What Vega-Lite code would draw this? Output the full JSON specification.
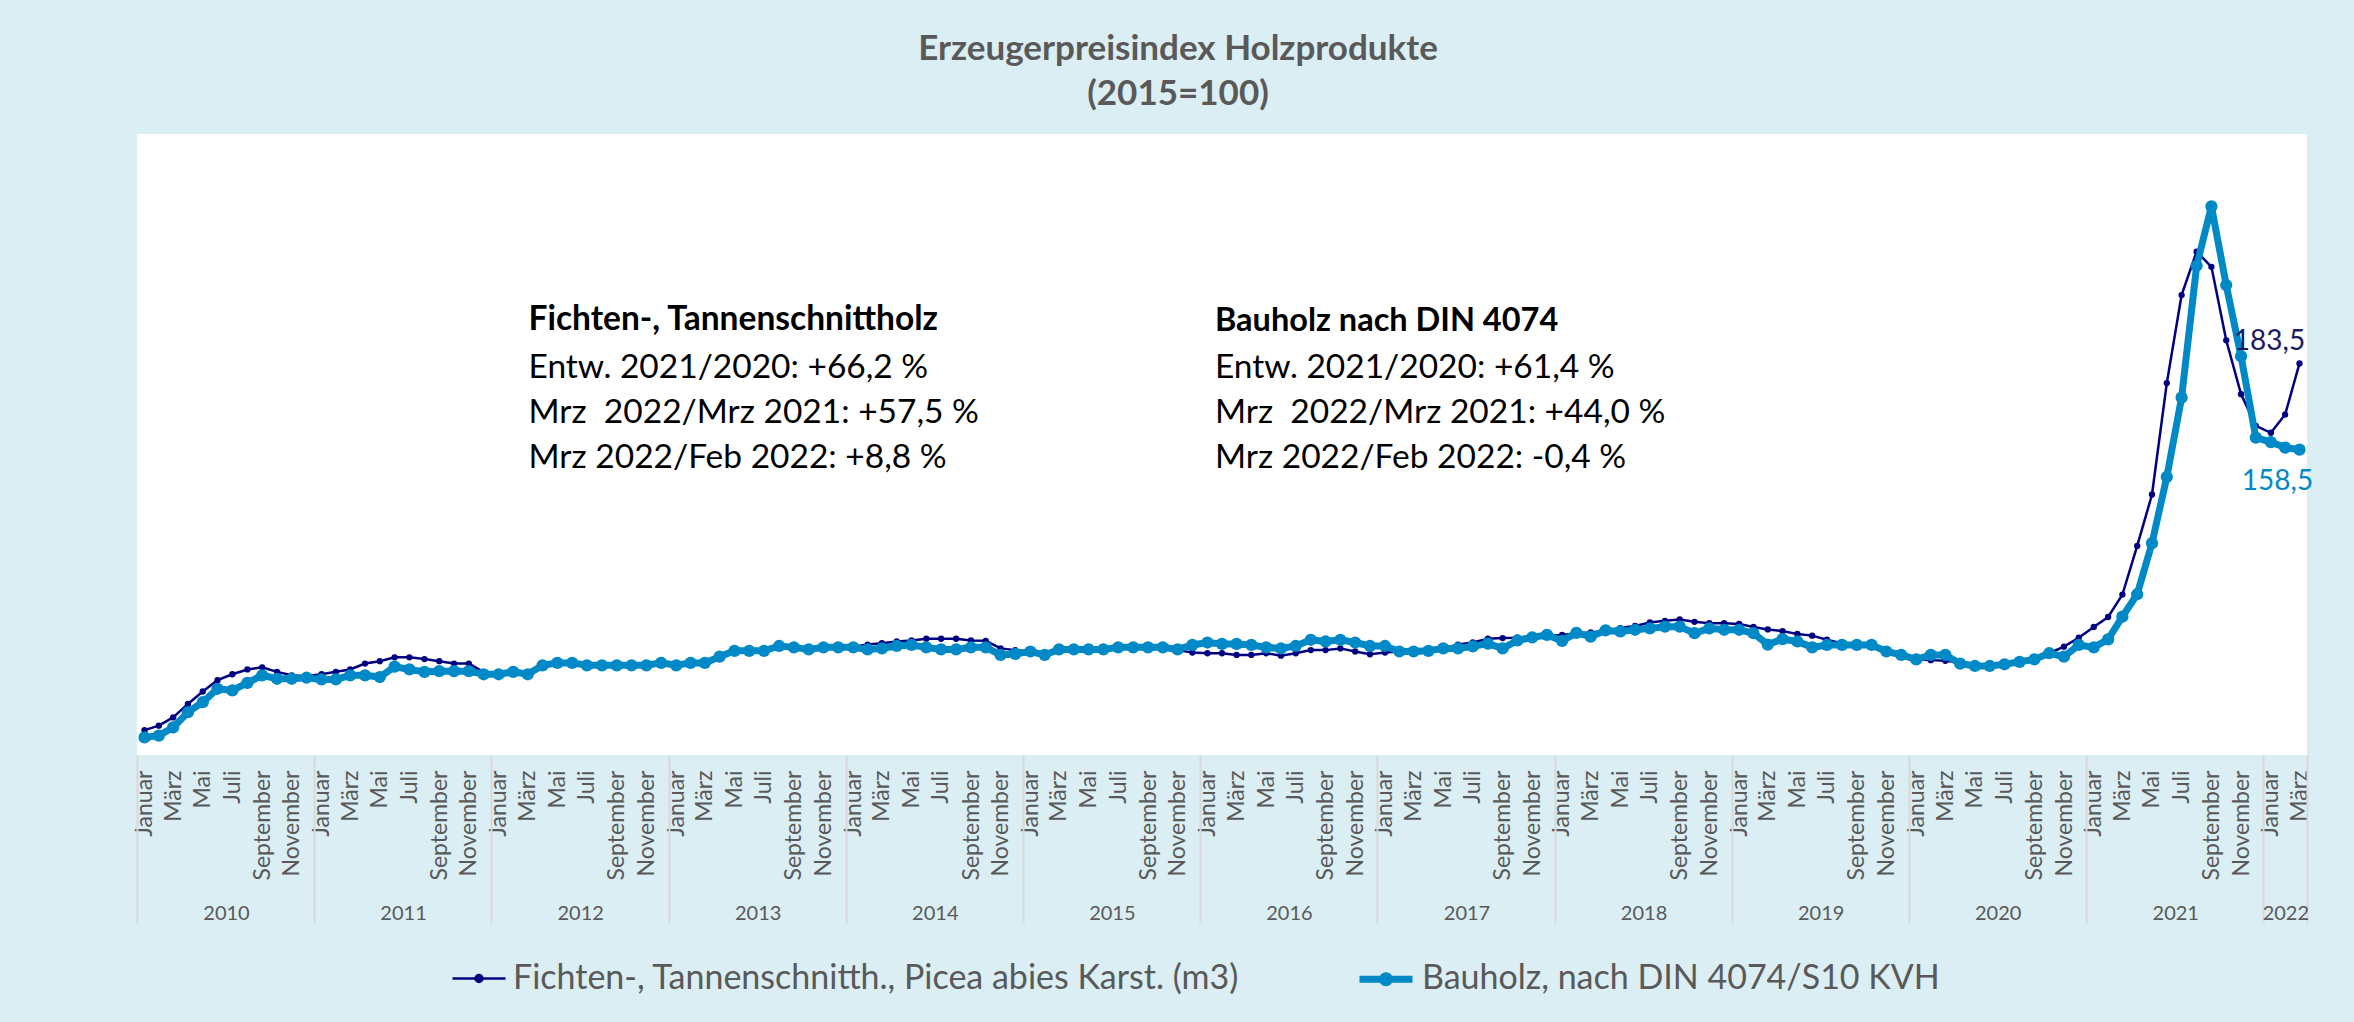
{
  "$schema": "https://vega.github.io/schema/vega-lite/v6.json",
  "autosize": {"type": "none"},
  "padding": {"left": 137, "top": 134, "right": 47, "bottom": 267},
  "width": 2170,
  "height": 621,
  "background": "#DAEEF3",
  "view": {"fill": "white", "stroke": null},
  "title": {
    "text": ["Erzeugerpreisindex Holzprodukte", "(2015=100)"],
    "fontSize": 35, "fontWeight": "bold", "color": "#595959", "font": "Lato",
    "lineHeight": 45, "anchor": "middle", "dx": -44, "offset": 22
  },
  "data": {
    "format": {"parse": {"d": "utc:'%Y-%m'"}},
    "values": [
      {"d":"2010-01","F":77.2,"B":75.1},{"d":"2010-02","F":78.5,"B":75.6},{"d":"2010-03","F":80.9,"B":78.0},{"d":"2010-04","F":84.8,"B":82.4},{"d":"2010-05","F":88.4,"B":85.3},{"d":"2010-06","F":91.7,"B":89.2},{"d":"2010-07","F":93.4,"B":88.7},{"d":"2010-08","F":94.8,"B":90.9},{"d":"2010-09","F":95.4,"B":93.1},{"d":"2010-10","F":94.1,"B":92.1},{"d":"2010-11","F":93.1,"B":92.1},{"d":"2010-12","F":92.8,"B":92.4},
      {"d":"2011-01","F":93.4,"B":91.9},{"d":"2011-02","F":94.1,"B":91.9},{"d":"2011-03","F":94.8,"B":93.1},{"d":"2011-04","F":96.5,"B":93.1},{"d":"2011-05","F":97.2,"B":92.6},{"d":"2011-06","F":98.3,"B":95.6},{"d":"2011-07","F":98.3,"B":94.8},{"d":"2011-08","F":97.8,"B":94.1},{"d":"2011-09","F":97.2,"B":94.3},{"d":"2011-10","F":96.5,"B":94.3},{"d":"2011-11","F":96.5,"B":94.3},{"d":"2011-12","F":94.0,"B":93.4},
      {"d":"2012-01","F":93.6,"B":93.4},{"d":"2012-02","F":94.1,"B":94.1},{"d":"2012-03","F":93.6,"B":93.4},{"d":"2012-04","F":96.0,"B":96.0},{"d":"2012-05","F":96.7,"B":96.7},{"d":"2012-06","F":96.7,"B":96.7},{"d":"2012-07","F":96.2,"B":96.0},{"d":"2012-08","F":96.2,"B":96.0},{"d":"2012-09","F":96.2,"B":96.0},{"d":"2012-10","F":96.2,"B":96.0},{"d":"2012-11","F":96.2,"B":96.0},{"d":"2012-12","F":96.7,"B":96.7},
      {"d":"2013-01","F":96.2,"B":96.0},{"d":"2013-02","F":96.7,"B":96.7},{"d":"2013-03","F":96.7,"B":96.7},{"d":"2013-04","F":98.5,"B":98.5},{"d":"2013-05","F":100.2,"B":100.2},{"d":"2013-06","F":100.2,"B":100.2},{"d":"2013-07","F":100.2,"B":100.2},{"d":"2013-08","F":101.4,"B":101.6},{"d":"2013-09","F":101.2,"B":101.2},{"d":"2013-10","F":100.8,"B":100.6},{"d":"2013-11","F":101.2,"B":101.2},{"d":"2013-12","F":101.2,"B":101.2},
      {"d":"2014-01","F":101.4,"B":101.2},{"d":"2014-02","F":102.0,"B":100.6},{"d":"2014-03","F":102.4,"B":100.9},{"d":"2014-04","F":102.9,"B":101.6},{"d":"2014-05","F":103.2,"B":101.9},{"d":"2014-06","F":103.7,"B":101.2},{"d":"2014-07","F":103.7,"B":100.6},{"d":"2014-08","F":103.7,"B":100.6},{"d":"2014-09","F":103.2,"B":101.2},{"d":"2014-10","F":103.1,"B":101.2},{"d":"2014-11","F":100.9,"B":99.0},{"d":"2014-12","F":100.4,"B":99.3},
      {"d":"2015-01","F":100.0,"B":100.0},{"d":"2015-02","F":99.5,"B":99.0},{"d":"2015-03","F":100.6,"B":100.6},{"d":"2015-04","F":100.6,"B":100.6},{"d":"2015-05","F":100.6,"B":100.6},{"d":"2015-06","F":100.6,"B":100.6},{"d":"2015-07","F":101.2,"B":101.2},{"d":"2015-08","F":101.2,"B":101.2},{"d":"2015-09","F":101.2,"B":101.2},{"d":"2015-10","F":101.0,"B":101.2},{"d":"2015-11","F":100.4,"B":100.6},{"d":"2015-12","F":99.7,"B":101.9},
      {"d":"2016-01","F":99.5,"B":102.6},{"d":"2016-02","F":99.5,"B":102.2},{"d":"2016-03","F":99.0,"B":102.2},{"d":"2016-04","F":99.0,"B":101.9},{"d":"2016-05","F":99.5,"B":101.2},{"d":"2016-06","F":98.8,"B":100.9},{"d":"2016-07","F":99.5,"B":101.6},{"d":"2016-08","F":100.4,"B":103.4},{"d":"2016-09","F":100.4,"B":102.9},{"d":"2016-10","F":100.9,"B":103.4},{"d":"2016-11","F":100.0,"B":102.6},{"d":"2016-12","F":99.2,"B":101.6},
      {"d":"2017-01","F":99.7,"B":101.6},{"d":"2017-02","F":100.0,"B":100.0},{"d":"2017-03","F":100.0,"B":100.0},{"d":"2017-04","F":100.4,"B":100.2},{"d":"2017-05","F":100.9,"B":100.9},{"d":"2017-06","F":102.0,"B":100.9},{"d":"2017-07","F":102.6,"B":101.5},{"d":"2017-08","F":103.7,"B":102.3},{"d":"2017-09","F":103.9,"B":100.9},{"d":"2017-10","F":104.0,"B":103.2},{"d":"2017-11","F":104.5,"B":104.1},{"d":"2017-12","F":104.6,"B":104.8},
      {"d":"2018-01","F":104.8,"B":103.1},{"d":"2018-02","F":105.3,"B":105.4},{"d":"2018-03","F":105.5,"B":104.3},{"d":"2018-04","F":106.0,"B":106.1},{"d":"2018-05","F":106.8,"B":105.8},{"d":"2018-06","F":107.4,"B":106.3},{"d":"2018-07","F":108.4,"B":106.7},{"d":"2018-08","F":108.9,"B":107.2},{"d":"2018-09","F":109.3,"B":107.2},{"d":"2018-10","F":108.6,"B":105.3},{"d":"2018-11","F":108.2,"B":106.7},{"d":"2018-12","F":108.2,"B":106.3},
      {"d":"2019-01","F":108.0,"B":106.3},{"d":"2019-02","F":107.1,"B":105.3},{"d":"2019-03","F":106.4,"B":102.0},{"d":"2019-04","F":105.9,"B":103.6},{"d":"2019-05","F":105.1,"B":102.9},{"d":"2019-06","F":104.6,"B":101.2},{"d":"2019-07","F":103.4,"B":101.9},{"d":"2019-08","F":102.3,"B":101.9},{"d":"2019-09","F":101.9,"B":101.9},{"d":"2019-10","F":101.9,"B":101.9},{"d":"2019-11","F":100.0,"B":100.0},{"d":"2019-12","F":99.0,"B":99.0},
      {"d":"2020-01","F":97.7,"B":97.7},{"d":"2020-02","F":97.5,"B":99.0},{"d":"2020-03","F":97.3,"B":99.0},{"d":"2020-04","F":96.8,"B":96.5},{"d":"2020-05","F":95.8,"B":95.8},{"d":"2020-06","F":95.8,"B":95.8},{"d":"2020-07","F":96.3,"B":96.3},{"d":"2020-08","F":97.0,"B":97.0},{"d":"2020-09","F":97.7,"B":97.7},{"d":"2020-10","F":99.5,"B":99.5},{"d":"2020-11","F":101.4,"B":98.5},{"d":"2020-12","F":104.0,"B":101.9},
      {"d":"2021-01","F":107.1,"B":101.2},{"d":"2021-02","F":110.0,"B":103.5},{"d":"2021-03","F":116.5,"B":110.1},{"d":"2021-04","F":130.6,"B":116.6},{"d":"2021-05","F":145.5,"B":131.4},{"d":"2021-06","F":177.8,"B":150.6},{"d":"2021-07","F":203.3,"B":173.6},{"d":"2021-08","F":215.9,"B":211.8},{"d":"2021-09","F":211.5,"B":229.0},{"d":"2021-10","F":190.2,"B":206.2},{"d":"2021-11","F":174.6,"B":185.6},{"d":"2021-12","F":165.4,"B":162.0},
      {"d":"2022-01","F":163.4,"B":160.7},{"d":"2022-02","F":168.7,"B":159.1},{"d":"2022-03","F":183.5,"B":158.5}
    ]
  },
  "transform": [{"fold": ["F", "B"], "as": ["s", "v"]}],
  "resolve": {"axis": {"x": "independent"}},
  "layer": [
    {
      "transform": [{"filter": {"field": "s", "equal": "F"}}],
      "mark": {"type": "line", "point": {"filled": true, "size": 40}},
      "encoding": {
        "x": {
          "field": "d", "timeUnit": "utcyearmonth", "type": "temporal", "bandPosition": 0.5,
          "scale": {"type": "utc", "nice": false, "domain": [{"year": 2010, "month": 1, "date": 1, "utc": true}, {"year": 2022, "month": 4, "date": 1, "utc": true}]},
          "axis": {
            "orient": "bottom", "title": null, "tickCount": {"interval": "month", "step": 2},
            "labelExpr": "['Januar','Februar','März','April','Mai','Juni','Juli','August','September','Oktober','November','Dezember'][utcmonth(datum.value)]",
            "labelAngle": 270, "labelAlign": "right", "labelBaseline": "middle", "labelOffset": 7.4,
            "ticks": false, "domain": false, "grid": false, "labelPadding": 15,
            "labelFontSize": 23, "labelColor": "#595959", "labelFont": "Lato",
            "labelOverlap": false, "labelBound": false, "labelFlush": false
          }
        },
        "y": {
          "field": "v", "type": "quantitative",
          "scale": {"domain": [70, 250], "nice": false, "zero": false},
          "axis": {"values": [70, 90, 110, 130, 150, 170, 190, 210, 230, 250], "grid": true, "gridColor": "#D9D9D9", "gridWidth": 2, "domain": false, "ticks": false, "labelPadding": 24, "labelFontSize": 20, "labelColor": "#595959", "labelFont": "Lato", "title": null}
        },
        "color": {
          "field": "s", "type": "nominal",
          "scale": {"domain": ["F", "B"], "range": ["#000080", "#0089C7"]},
          "legend": {
            "orient": "none", "legendX": 314, "legendY": 815, "direction": "horizontal", "title": null,
            "symbolType": "M-1,0L1,0M-0.13,0A0.13,0.13 0 1,1 0.13,0A0.13,0.13 0 1,1 -0.13,0Z",
            "symbolSize": 2809, "labelFontSize": 34, "labelColor": "#595959", "labelFont": "Lato",
            "labelLimit": 2000, "labelOffset": 6, "columnPadding": 105,
            "labelExpr": "datum.value == 'F' ? 'Fichten-, Tannenschnitth., Picea abies Karst. (m3)' : 'Bauholz, nach DIN 4074/S10 KVH'"
          }
        },
        "strokeWidth": {"field": "s", "type": "nominal", "scale": {"domain": ["F", "B"], "range": [2.5, 7]}}
      }
    },
    {
      "transform": [{"filter": {"field": "s", "equal": "B"}}],
      "mark": {"type": "line", "point": {"filled": true, "size": 150}},
      "encoding": {
        "x": {
          "field": "d", "timeUnit": "utcyearmonth", "type": "temporal", "bandPosition": 0.5,
          "axis": {
            "orient": "bottom", "title": null,
            "values": [
              {"year": 2010, "month": 1, "date": 1, "utc": true}, {"year": 2011, "month": 1, "date": 1, "utc": true},
              {"year": 2012, "month": 1, "date": 1, "utc": true}, {"year": 2013, "month": 1, "date": 1, "utc": true},
              {"year": 2014, "month": 1, "date": 1, "utc": true}, {"year": 2015, "month": 1, "date": 1, "utc": true},
              {"year": 2016, "month": 1, "date": 1, "utc": true}, {"year": 2017, "month": 1, "date": 1, "utc": true},
              {"year": 2018, "month": 1, "date": 1, "utc": true}, {"year": 2019, "month": 1, "date": 1, "utc": true},
              {"year": 2020, "month": 1, "date": 1, "utc": true}, {"year": 2021, "month": 1, "date": 1, "utc": true},
              {"year": 2022, "month": 1, "date": 1, "utc": true}, {"year": 2022, "month": 4, "date": 1, "utc": true}
            ],
            "labelExpr": "utcmonth(datum.value) == 0 ? '' + utcyear(datum.value) : ''",
            "labelOffset": {"condition": {"test": "utcyear(datum.value) == 2022", "value": 22}, "value": 89},
            "ticks": true, "tickSize": 168, "tickColor": "#D9D9D9", "tickWidth": 2,
            "domain": false, "grid": false, "labelPadding": -20, "labelAngle": 0,
            "labelAlign": "center", "labelBaseline": "top", "labelFontSize": 20,
            "labelColor": "#595959", "labelFont": "Lato",
            "labelOverlap": false, "labelBound": false, "labelFlush": false
          }
        },
        "y": {"field": "v", "type": "quantitative"},
        "color": {"field": "s", "type": "nominal"},
        "strokeWidth": {"field": "s", "type": "nominal"}
      }
    },
    {
      "data": {"values": [{}]},
      "mark": {"type": "text", "text": "Fichten-, Tannenschnittholz", "align": "left", "baseline": "top", "fontSize": 33.5, "fontWeight": "bold", "font": "Lato", "color": "#000000"},
      "encoding": {
        "x": {"datum": {"year": 2012, "month": 3, "date": 18, "utc": true}, "type": "temporal", "axis": null},
        "y": {"datum": 200.6, "type": "quantitative", "axis": null}
      }
    },
    {
      "data": {"values": [{}]},
      "mark": {"type": "text", "text": ["Entw. 2021/2020: +66,2 %", "Mrz\u00a0 2022/Mrz 2021: +57,5 %", "Mrz 2022/Feb 2022: +8,8 %"], "align": "left", "baseline": "top", "lineHeight": 45, "fontSize": 33.5, "font": "Lato", "color": "#000000"},
      "encoding": {
        "x": {"datum": {"year": 2012, "month": 3, "date": 18, "utc": true}, "type": "temporal", "axis": null},
        "y": {"datum": 186.8, "type": "quantitative", "axis": null}
      }
    },
    {
      "data": {"values": [{}]},
      "mark": {"type": "text", "text": "Bauholz nach DIN 4074", "align": "left", "baseline": "top", "fontSize": 32.5, "fontWeight": "bold", "font": "Lato", "color": "#000000"},
      "encoding": {
        "x": {"datum": {"year": 2016, "month": 2, "date": 1, "utc": true}, "type": "temporal", "axis": null},
        "y": {"datum": 200.4, "type": "quantitative", "axis": null}
      }
    },
    {
      "data": {"values": [{}]},
      "mark": {"type": "text", "text": ["Entw. 2021/2020: +61,4 %", "Mrz\u00a0 2022/Mrz 2021: +44,0 %", "Mrz 2022/Feb 2022: -0,4 %"], "align": "left", "baseline": "top", "lineHeight": 45, "fontSize": 33.5, "font": "Lato", "color": "#000000"},
      "encoding": {
        "x": {"datum": {"year": 2016, "month": 2, "date": 1, "utc": true}, "type": "temporal", "axis": null},
        "y": {"datum": 186.8, "type": "quantitative", "axis": null}
      }
    },
    {
      "transform": [{"filter": {"field": "s", "equal": "F"}}, {"filter": "utcyear(datum.d) == 2022 && utcmonth(datum.d) == 2"}],
      "mark": {"type": "text", "dx": -30, "dy": -21, "fontSize": 28, "font": "Lato", "color": "#1A1A5E", "align": "center", "baseline": "middle"},
      "encoding": {
        "x": {"field": "d", "timeUnit": "utcyearmonth", "type": "temporal", "bandPosition": 0.5, "axis": null},
        "y": {"field": "v", "type": "quantitative", "axis": null},
        "text": {"field": "v", "type": "quantitative", "format": ".1f"}
      }
    },
    {
      "transform": [{"filter": {"field": "s", "equal": "B"}}, {"filter": "utcyear(datum.d) == 2022 && utcmonth(datum.d) == 2"}],
      "mark": {"type": "text", "dx": -22, "dy": 32, "fontSize": 28, "font": "Lato", "color": "#0089C7", "align": "center", "baseline": "middle"},
      "encoding": {
        "x": {"field": "d", "timeUnit": "utcyearmonth", "type": "temporal", "bandPosition": 0.5, "axis": null},
        "y": {"field": "v", "type": "quantitative", "axis": null},
        "text": {"field": "v", "type": "quantitative", "format": ".1f"}
      }
    }
  ],
  "config": {
    "font": "Lato",
    "locale": {"number": {"decimal": ",", "thousands": ".", "grouping": [3], "currency": ["", " €"]}}
  }
}
